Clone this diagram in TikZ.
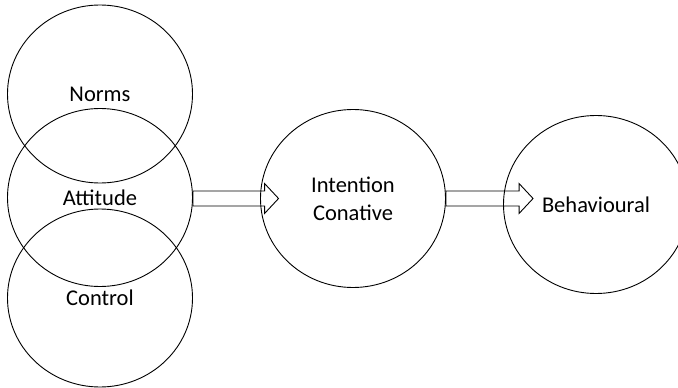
\documentclass[tikz,border=0pt]{standalone}
\usepackage{fontspec}
\setmainfont{Carlito}
\usetikzlibrary{shapes.geometric,calc}

\tikzset{
	factor/.style={ellipse,draw,line width=0.9pt,minimum width=185pt,minimum height=178pt,
		inner sep=0pt,align=center,font=\fontsize{22.5}{28}\selectfont},
	fatarrow/.style={line width=0.9pt,to path={let \p1=(\tikztostart),\p2=(\tikztotarget) in
		(\x1,\y2+7.5pt) -- (\x2-14pt,\y2+7.5pt) -- (\x2-14pt,\y2+15pt) -- (\x2,\y2)
		-- (\x2-14pt,\y2-15pt) -- (\x2-14pt,\y2-7.5pt) -- (\x1,\y2-7.5pt) -- cycle}}
}

\begin{document}
\begin{tikzpicture}[x=1pt,y=-1pt]
	\useasboundingbox (0,0) rectangle (678,388);
	\clip (0,0) rectangle (678,388);

	\node[factor] (norms) at (100,94) {Norms};
	\node[factor] (attitude) at (100,197.5) {Attitude};
	\node[factor] (control) at (100,298) {Control};
	\node[factor] (intention) at (353,198.5) {Intention\\Conative};
	\node[factor] (behaviour) at (596,204.5) {Behavioural};

	\coordinate (tip1) at ($(intention.west)+(18.5,0)$);
	\coordinate (tip2) at ($(behaviour.west |- intention.center)+(30,0)$);

	\draw[fatarrow] (attitude.east) to (tip1);
	\draw[fatarrow] (intention.east) to (tip2);
\end{tikzpicture}
\end{document}
